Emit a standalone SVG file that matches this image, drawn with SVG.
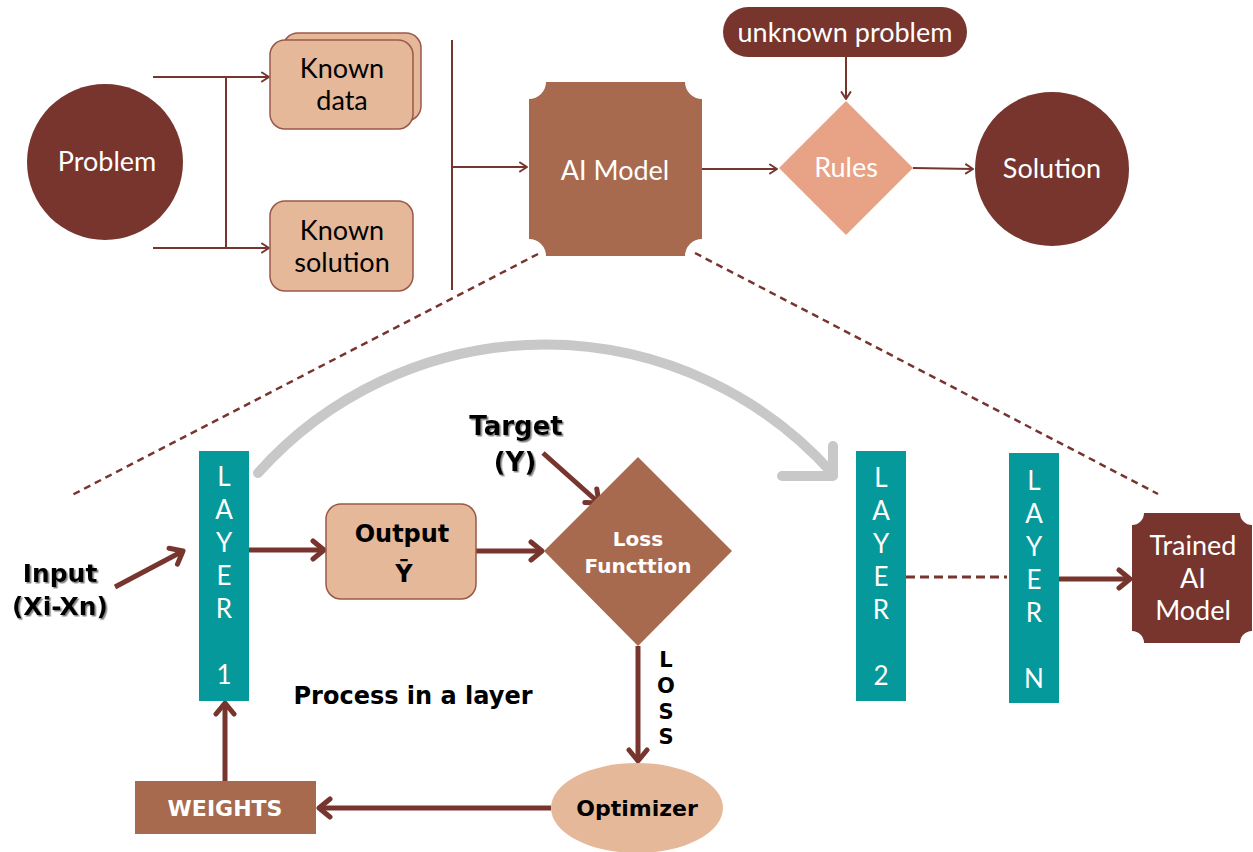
<svg xmlns="http://www.w3.org/2000/svg" width="1253" height="852" viewBox="0 0 1253 852">
  <defs>
    <style>
      .dark { fill: #77352e; }
      .mid { fill: #a86a4e; }
      .tan { fill: #e5b89a; stroke: #9a5848; stroke-width: 1.5; }
      .teal { fill: #05999b; }
      .thin { fill: none; stroke: #77352e; stroke-width: 2; }
      .thick { fill: none; stroke: #77352e; stroke-width: 5; }
      .dash { fill: none; stroke: #77352e; stroke-width: 2.5; stroke-dasharray: 7 5; }
      .t { font-family: Lato, "Liberation Sans", sans-serif; text-anchor: middle; }
      .reg { font-size: 27px; font-weight: 400; }
      .w { fill: #ffffff; }
      .k { fill: #000000; }
      .bold { font-family: "DejaVu Sans", "Liberation Sans", sans-serif; font-weight: 700; }
      .layer { font-family: Lato, "Liberation Sans", sans-serif; font-size: 26px; font-weight: 400; fill: #ffffff; text-anchor: middle; }
    </style>
    <marker id="arrSmall" viewBox="0 0 12 12" refX="10" refY="6" markerWidth="12" markerHeight="12" markerUnits="userSpaceOnUse" orient="auto">
      <path d="M3,1.5 L10,6 L3,10.5" fill="none" stroke="#77352e" stroke-width="2" stroke-linecap="round" stroke-linejoin="round"/>
    </marker>
    <marker id="arrBig" viewBox="0 0 24 24" refX="20" refY="12" markerWidth="24" markerHeight="24" markerUnits="userSpaceOnUse" orient="auto">
      <path d="M9,3 L20,12 L9,21" fill="none" stroke="#77352e" stroke-width="5" stroke-linecap="round" stroke-linejoin="round"/>
    </marker>
    <filter id="shadow" x="-10%" y="-10%" width="130%" height="140%">
      <feDropShadow dx="1.5" dy="1.5" stdDeviation="0.6" flood-color="#777777" flood-opacity="0.9"/>
    </filter>
  </defs>

  <rect width="1253" height="852" fill="#ffffff"/>

  <!-- connectors -->
  <g id="connectors">
    <!-- problem splits into data and solution -->
    <path class="thin" d="M153,77 H269" marker-end="url(#arrSmall)"/>
    <path class="thin" d="M153,248 H269" marker-end="url(#arrSmall)"/>
    <path class="thin" d="M226,77 V248"/>
    <!-- merge bar into the model -->
    <path class="thin" d="M452,40 V290"/>
    <path class="thin" d="M452,167 H527" marker-end="url(#arrSmall)"/>
    <path class="thin" d="M702,169 H777" marker-end="url(#arrSmall)"/>
    <path class="thin" d="M846,57 V99" marker-end="url(#arrSmall)"/>
    <path class="thin" d="M913,168 L973,169" marker-end="url(#arrSmall)"/>

    <!-- zoom-out guides -->
    <path class="dash" d="M538,254 L72,495"/>
    <path class="dash" d="M695,253 L1158,494"/>

    <!-- big curved arrow over the layer stack -->
    <path d="M258,473 A385,385 0 0 1 833,474" fill="none" stroke="#c8c8c8" stroke-width="10" stroke-linecap="round"/>
    <path d="M833,446 V476 H782" fill="none" stroke="#c8c8c8" stroke-width="10" stroke-linecap="round" stroke-linejoin="round"/>

    <!-- inside a layer -->
    <path class="thick" d="M115,587 L183,551" marker-end="url(#arrBig)"/>
    <path class="thick" d="M249,550 H324" marker-end="url(#arrBig)"/>
    <path class="thick" d="M476,551 H542" marker-end="url(#arrBig)"/>
    <path class="thick" d="M543,453 L599,503" marker-end="url(#arrBig)"/>
    <path class="thick" d="M638,646 V761" marker-end="url(#arrBig)"/>
    <path class="thick" d="M551,808 H319" marker-end="url(#arrBig)"/>
    <path class="thick" d="M225,781 V703" marker-end="url(#arrBig)"/>

    <!-- across the stack -->
    <path d="M906,577 H1007" fill="none" stroke="#77352e" stroke-width="3" stroke-dasharray="9 5"/>
    <path class="thick" d="M1059,579 H1130" marker-end="url(#arrBig)"/>
  </g>

  <!-- upper flow -->
  <g id="problem">
    <circle class="dark" cx="105" cy="162" r="78"/>
    <text class="t reg w" x="107" y="171">Problem</text>
  </g>

  <g id="known-data">
    <rect class="tan" x="283" y="33" width="138" height="88" rx="15"/>
    <rect class="tan" x="270" y="40" width="143" height="89" rx="15"/>
    <text class="t reg k" x="342" y="78">Known</text>
    <text class="t reg k" x="342" y="110">data</text>
  </g>

  <g id="known-solution">
    <rect class="tan" x="270" y="201" width="143" height="90" rx="15"/>
    <text class="t reg k" x="342" y="240">Known</text>
    <text class="t reg k" x="342" y="272">solution</text>
  </g>

  <g id="ai-model">
    <path class="mid" d="M546,82 H685 A17,17 0 0 0 702,99 V239 A17,17 0 0 0 685,256 H546 A17,17 0 0 0 529,239 V99 A17,17 0 0 0 546,82 Z"/>
    <text class="t reg w" x="615" y="180">AI Model</text>
  </g>

  <g id="unknown-problem">
    <rect class="dark" x="723" y="7" width="244" height="50" rx="25"/>
    <text class="t reg w" x="845" y="42" font-size="28">unknown problem</text>
  </g>

  <g id="rules">
    <polygon points="846,101 913,168 846,235 779,168" fill="#e8a285"/>
    <text class="t reg w" x="846" y="177">Rules</text>
  </g>

  <g id="solution">
    <circle class="dark" cx="1052" cy="169" r="77"/>
    <text class="t reg w" x="1052" y="178">Solution</text>
  </g>

  <!-- lower detail -->
  <g id="input">
    <text class="t bold k" font-size="25" x="60" y="582" filter="url(#shadow)">Input</text>
    <text class="t bold k" font-size="25" x="60" y="615" filter="url(#shadow)">(Xi-Xn)</text>
  </g>

  <g id="layer-1">
    <rect class="teal" x="199" y="451" width="50" height="250"/>
    <text class="layer" x="224" y="486">L</text>
    <text class="layer" x="224" y="519">A</text>
    <text class="layer" x="224" y="552">Y</text>
    <text class="layer" x="224" y="585">E</text>
    <text class="layer" x="224" y="618">R</text>
    <text class="layer" x="224" y="684">1</text>
  </g>

  <g id="output">
    <rect class="tan" x="326" y="504" width="150" height="95" rx="15"/>
    <text class="t bold k" font-size="24" x="402" y="542">Output</text>
    <text class="t bold k" font-size="24" x="404" y="582">Ȳ</text>
  </g>

  <g id="target">
    <text class="t bold k" font-size="26" x="516" y="435" filter="url(#shadow)">Target</text>
    <text class="t bold k" font-size="26" x="515" y="471" filter="url(#shadow)">(Y)</text>
  </g>

  <g id="loss-function">
    <polygon class="mid" points="638,457 732,551 638,646 544,551"/>
    <text class="t bold w" font-size="20" x="638" y="546">Loss</text>
    <text class="t bold w" font-size="20" x="638" y="573">Functtion</text>
  </g>

  <g id="loss-label">
    <text class="t bold k" font-size="21" x="666" y="667">L</text>
    <text class="t bold k" font-size="21" x="666" y="693">O</text>
    <text class="t bold k" font-size="21" x="666" y="719">S</text>
    <text class="t bold k" font-size="21" x="666" y="744">S</text>
  </g>

  <g id="process-label">
    <text class="t bold k" font-size="24" x="413" y="704">Process in a layer</text>
  </g>

  <g id="optimizer">
    <ellipse cx="637" cy="808" rx="86" ry="45" fill="#e5b89a"/>
    <text class="t bold k" font-size="22" x="637" y="816">Optimizer</text>
  </g>

  <g id="weights">
    <rect class="mid" x="135" y="781" width="181" height="53"/>
    <text class="t bold w" font-size="22" x="225" y="816">WEIGHTS</text>
  </g>

  <g id="layer-2">
    <rect class="teal" x="856" y="451" width="50" height="250"/>
    <text class="layer" x="881" y="487">L</text>
    <text class="layer" x="881" y="520">A</text>
    <text class="layer" x="881" y="553">Y</text>
    <text class="layer" x="881" y="586">E</text>
    <text class="layer" x="881" y="619">R</text>
    <text class="layer" x="881" y="685">2</text>
  </g>

  <g id="layer-n">
    <rect class="teal" x="1009" y="453" width="50" height="250"/>
    <text class="layer" x="1034" y="490">L</text>
    <text class="layer" x="1034" y="523">A</text>
    <text class="layer" x="1034" y="556">Y</text>
    <text class="layer" x="1034" y="589">E</text>
    <text class="layer" x="1034" y="622">R</text>
    <text class="layer" x="1034" y="688">N</text>
  </g>

  <g id="trained-model">
    <path class="dark" d="M1144,513 H1240 A12,12 0 0 0 1252,525 V631 A12,12 0 0 0 1240,643 H1144 A12,12 0 0 0 1132,631 V525 A12,12 0 0 0 1144,513 Z"/>
    <text class="t reg w" x="1193" y="555">Trained</text>
    <text class="t reg w" x="1193" y="588">AI</text>
    <text class="t reg w" x="1193" y="620">Model</text>
  </g>
</svg>
